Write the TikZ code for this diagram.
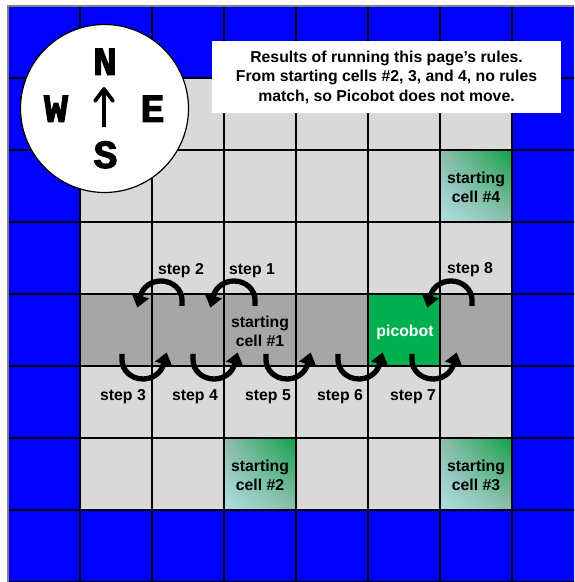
\documentclass[tikz,border=0pt]{standalone}
\usepackage{fontspec}
\setmainfont{Liberation Sans}
\newfontfamily\compassfont{Liberation Mono Bold}[FakeBold=2.5]
\usetikzlibrary{arrows.meta,shadings,calc}
\definecolor{pbBlue}{HTML}{0000FF}
\definecolor{pbLight}{HTML}{D9D9D9}
\definecolor{pbDark}{HTML}{A6A6A6}
\definecolor{pbGreen}{HTML}{00B050}
\definecolor{stGreen}{HTML}{0FA145}
\definecolor{stCyan}{HTML}{AEE0E2}
\definecolor{stMid}{HTML}{8FBDB0}
\begin{document}
\begin{tikzpicture}[x=1pt,y=1pt,
  lbl/.style={font=\bfseries\fontsize{15.8}{19}\selectfont, anchor=base, inner sep=0pt},
  whitelbl/.style={lbl, text=white},
  compassletter/.style={font=\compassfont\fontsize{40}{40}\selectfont, anchor=base, inner sep=0pt},
  steparrow/.style={line width=5.3pt, -{Triangle[width=17pt,length=12pt]}},
  startcell/.style={upper left=stMid, upper right=stGreen, lower left=stCyan, lower right=stMid},
  gridline/.style={line width=1.3pt, black}]
\useasboundingbox (0,0) rectangle (574,582);
\fill[white] (0,0) rectangle (574,582);
\begin{scope}
\clip (0,0) rectangle (574,582);
% cells
\fill[pbBlue] (8,0) rectangle (584,576);
\fill[pbLight] (80,72) rectangle (512,504);
\fill[pbDark] (80,216) rectangle (512,288);
\fill[pbGreen] (368,216) rectangle (440,288);
\shade[startcell] (440,360) rectangle (512,432);
\shade[startcell] (224,72) rectangle (296,144);
\shade[startcell] (440,72) rectangle (512,144);
% grid
\foreach \i in {1,...,8} \draw[gridline] (8+72*\i,0) -- (8+72*\i,576);
\foreach \j in {1,...,8} \draw[gridline] (8,576-72*\j) -- (584,576-72*\j);
\draw[gray, line width=1.6pt] (8,0) -- (8,576) -- (584,576);
\end{scope}
% title box
\node[fill=white, minimum width=349, minimum height=72, inner sep=0pt] (titlebox) at (386.5,505) {};
\node[lbl] (t1) at (386.5,519.7) {Results of running this page’s rules.};
\node[lbl] (t2) at (386.5,500.2) {From starting cells \#2, 3, and 4, no rules};
\node[lbl] (t3) at (386.5,480.7) {match, so Picobot does not move.};
% compass
\node[circle, draw=black, fill=white, line width=1.2pt, minimum size=168, inner sep=0pt] (compass) at (104.5,473.5) {};
\node[compassletter] (N) at (105,507) {N};
\node[compassletter] (W) at (56,460) {W};
\node[compassletter] (E) at (152.5,460) {E};
\node[compassletter] (S) at (105.5,414) {S};
\coordinate (ctip) at (104,493);
\coordinate (cbase) at (104,455);
\draw[line width=4pt] (cbase) -- ($(ctip)+(0,-3)$);
\draw[line width=3.8pt, line join=round, line cap=round] (ctip) ++(-9,-12) -- (ctip) -- ++(9,-12);
% cell labels
\node[lbl] (c4a) at (476,398) {starting};
\node[lbl] (c4b) at (476,379) {cell \#4};
\node[lbl] (c1a) at (260,254) {starting};
\node[lbl] (c1b) at (260,235) {cell \#1};
\node[lbl] (c2a) at (260,110) {starting};
\node[lbl] (c2b) at (260,91) {cell \#2};
\node[lbl] (c3a) at (476,110) {starting};
\node[lbl] (c3b) at (476,91) {cell \#3};
\node[whitelbl] (pico) at (405,245.3) {picobot};
% upper step arrows
\foreach \cx/\n in {161/2, 234/1, 451/8} {
  \coordinate (u\n) at (\cx+21,276);
  \draw[steparrow] (u\n) -- (\cx+21,282) arc[start angle=0, end angle=165, x radius=21, y radius=19] -- ++(255:13);
}
% lower step arrows
\foreach \cx/\n in {143/3, 214/4, 287/5, 359/6, 433/7} {
  \coordinate (l\n) at (\cx-21,228);
  \draw[steparrow] (l\n) -- (\cx-21,222) arc[start angle=180, end angle=345, x radius=21, y radius=19] -- ++(75:13);
}
% step labels
\node[lbl] (s1) at (252,307.5) {step 1};
\node[lbl] (s2) at (181,307.5) {step 2};
\node[lbl] (s8) at (470,308.7) {step 8};
\node[lbl] (s3) at (123,181) {step 3};
\node[lbl] (s4) at (195,181) {step 4};
\node[lbl] (s5) at (268,181) {step 5};
\node[lbl] (s6) at (340,181) {step 6};
\node[lbl] (s7) at (413,181) {step 7};
\end{tikzpicture}
\end{document}
